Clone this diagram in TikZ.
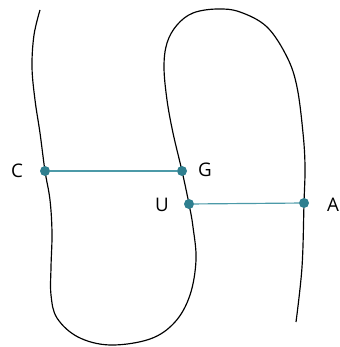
\documentclass[tikz,border=0pt]{standalone}
\usepackage{fontspec}
\setmainfont{Open Sans}
\usetikzlibrary{positioning}

\begin{document}
\begin{tikzpicture}[
  x=0.03cm, y=-0.03cm,
  font=\fontsize{16}{19}\selectfont,
  filamento/.style={draw=black, line width=1pt},
  base/.style={circle, fill=basecol, inner sep=0pt, minimum size=0.3cm},
  appaiamento/.style={draw=linkcol, line width=1pt},
  lettera/.style={inner sep=0pt, anchor=center}
]
\definecolor{basecol}{HTML}{2F7F8F}
\definecolor{linkcol}{HTML}{4C9AA8}
\useasboundingbox (0,0) rectangle (339,347);

% ---- filamento ripiegato -----------------------------------------------
\draw[filamento] plot[smooth, tension=0.6] coordinates {
  (40,10) (34,35) (32,67) (35,100) (40,133) (45,171) (50,200) (52,233)
  (51,267) (51,295) (57,318) (78,337) (110,345) (150,339) (175,322)
  (190,295) (196,260) (193,227) (189,204) (182,171) (173,133) (167,100)
  (164,67) (167,43) (177,25) (193,13) (217,9) (240,12) (267,27) (287,57)
  (297,87) (303,133) (305,167) (304,203) (302,267) (296,322)};

% ---- basi e appaiamenti ------------------------------------------------
\node[base] (c) at (45,171) {};
\node[base] (g) at (182,171) {};
\node[base] (u) at (189,204) {};
\node[base] (a) at (304,203) {};

\node[lettera] (lc) at (17,171) {C};
\node[lettera] (lg) at (205,170) {G};
\node[lettera] (lu) at (162,205) {U};
\node[lettera] (la) at (333,205) {A};

\draw[appaiamento] (c) -- (g);
\draw[appaiamento] (u) -- (a);

\end{tikzpicture}
\end{document}
